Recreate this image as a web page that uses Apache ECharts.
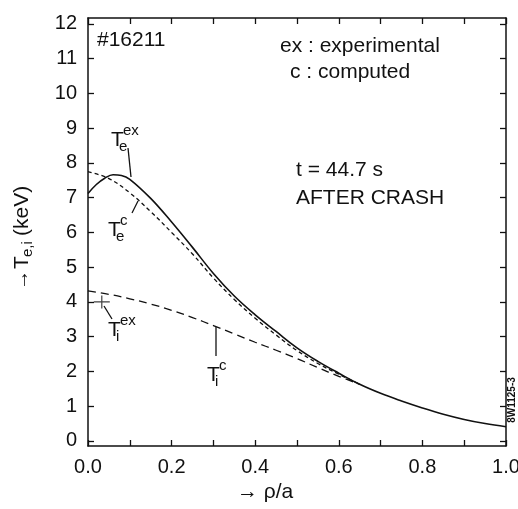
<!DOCTYPE html>
<html>
<head>
<meta charset="utf-8">
<script src="https://cdn.jsdelivr.net/npm/echarts@6/dist/echarts.min.js"></script>
<style>
html, body { margin: 0; padding: 0; background: #fff; }
#chart { width: 518px; height: 509px; }
</style>
</head>
<body>
<div id="chart"></div>
<script>
// profiles after the crash
const rho = [0, 0.02, 0.04, 0.06, 0.08, 0.1, 0.15, 0.2, 0.25, 0.3, 0.35, 0.4, 0.45, 0.5, 0.55, 0.6, 0.65, 0.7, 0.75, 0.8, 0.85, 0.9, 0.95, 1.0];
const teExp = [7.12, 7.38, 7.56, 7.66, 7.64, 7.53, 6.98, 6.3, 5.57, 4.82, 4.17, 3.63, 3.15, 2.68, 2.29, 1.95, 1.63, 1.37, 1.15, 0.95, 0.77, 0.62, 0.5, 0.41];
const rhoC = [0, 0.05, 0.1, 0.15, 0.2, 0.25, 0.3, 0.35, 0.4, 0.45, 0.5, 0.55, 0.6, 0.65];
const teComp = [7.75, 7.55, 7.14, 6.6, 6.0, 5.38, 4.69, 4.07, 3.53, 3.05, 2.6, 2.23, 1.92, 1.63];
const tiComp = [4.32, 4.22, 4.09, 3.94, 3.76, 3.55, 3.32, 3.08, 2.84, 2.61, 2.37, 2.11, 1.86, 1.63];
const tiExpRho = [0.033];
const tiExp = [4.0];
const yTicks = [0, 1, 2, 3, 4, 5, 6, 7, 8, 9, 10, 11, 12];
const xLabels = [0, 0.2, 0.4, 0.6, 0.8, 1.0];

const ink = "#111";
const font = "'Liberation Sans', Arial, Helvetica, sans-serif";

const zip = (xs, ys) => xs.map((x, i) => [x, ys[i]]);

const txt = (x, y, s, size, extra) => ({
    type: "text",
    x: x,
    y: y,
    style: Object.assign({
        text: s,
        fill: ink,
        font: size + "px " + font,
        verticalAlign: "middle",
    }, extra || {}),
});
const seg = (x1, y1, x2, y2) => ({
    type: "line",
    shape: { x1, y1, x2, y2 },
    style: { stroke: ink, lineWidth: 1.3 },
});
// T with a subscript and superscript
const tLabel = (x, y, sub, sup) => [
    txt(x, y, "T", 21),
    txt(x + 8, y + 7, sub, 15),
    txt(x + 12, y - 9, sup, 15),
];

const lineAxis = {
    axisLine: { show: true, onZero: false, lineStyle: { color: ink, width: 1.5 } },
    splitLine: { show: false },
};
const tick = { inside: true, length: 6, lineStyle: { color: ink, width: 1.3 } };

const chart = echarts.init(document.getElementById("chart"));
chart.setOption({
    animation: false,
    backgroundColor: "#fff",
    grid: { left: 88, right: 12, top: 18, bottom: 63, outerBoundsMode: "none" },
    xAxis: [
        Object.assign({
            type: "value",
            min: 0,
            max: 1,
            interval: 0.1,
            position: "bottom",
            axisTick: tick,
            axisLabel: {
                customValues: xLabels,
                formatter: v => v.toFixed(1),
                color: ink,
                fontSize: 20,
                fontFamily: font,
                margin: 11,
            },
        }, lineAxis),
        Object.assign({
            type: "value",
            min: 0,
            max: 1,
            interval: 0.1,
            position: "top",
            axisTick: tick,
            axisLabel: { show: false },
        }, lineAxis),
    ],
    yAxis: [
        Object.assign({
            type: "value",
            min: -0.145,
            max: 12.17,
            position: "left",
            axisTick: Object.assign({ customValues: yTicks }, tick),
            axisLabel: {
                customValues: yTicks,
                color: ink,
                fontSize: 20,
                fontFamily: font,
                margin: 11,
            },
        }, lineAxis),
        Object.assign({
            type: "value",
            min: -0.145,
            max: 12.17,
            position: "right",
            axisTick: Object.assign({ customValues: yTicks }, tick),
            axisLabel: { show: false },
        }, lineAxis),
    ],
    series: [
        {
            name: "Te ex",
            type: "line",
            data: zip(rho, teExp),
            smooth: 0.4,
            showSymbol: false,
            lineStyle: { color: ink, width: 1.6 },
        },
        {
            name: "Te c",
            type: "line",
            data: zip(rhoC, teComp),
            smooth: 0.4,
            showSymbol: false,
            lineStyle: { color: ink, width: 1.3, type: [4, 3] },
        },
        {
            name: "Ti c",
            type: "line",
            data: zip(rhoC, tiComp),
            smooth: 0.4,
            showSymbol: false,
            lineStyle: { color: ink, width: 1.3, type: [8, 5] },
        },
        {
            name: "Ti ex",
            type: "scatter",
            data: zip(tiExpRho, tiExp),
            symbol: "path://M0,5.4H16V6.6H0Z M7.4,0H8.6V12H7.4Z",
            symbolSize: [16, 13],
            itemStyle: { color: ink },
        },
    ],
    graphic: [
        txt(97, 40, "#16211", 21),
        txt(280, 46, "ex : experimental", 21),
        txt(290, 72, "c : computed", 21),
        txt(296, 170, "t = 44.7 s", 21),
        txt(296, 198, "AFTER CRASH", 21),
        ...tLabel(111, 140, "e", "ex"),
        ...tLabel(108, 230, "e", "c"),
        ...tLabel(108, 330, "i", "ex"),
        ...tLabel(207, 375, "i", "c"),
        seg(128, 148, 131, 177),
        seg(138, 201, 132, 213),
        seg(104, 306, 112, 319),
        seg(216, 327, 216, 356),
        txt(237, 492, "\u2192 \u03c1/a", 21),
        {
            type: "group",
            x: 22,
            y: 290,
            rotation: Math.PI / 2,
            children: [
                txt(0, 0, "\u2192", 20),
                txt(21, 0, "T", 21),
                txt(33, 6, "e,i", 15),
                txt(54, 0, "(keV)", 21),
            ],
        },
        {
            type: "text",
            x: 512,
            y: 400,
            rotation: Math.PI / 2,
            style: {
                text: "8W1125-3",
                fill: ink,
                font: "bold 10px " + font,
                align: "center",
                verticalAlign: "middle",
            },
        },
    ],
});
</script>
</body>
</html>
